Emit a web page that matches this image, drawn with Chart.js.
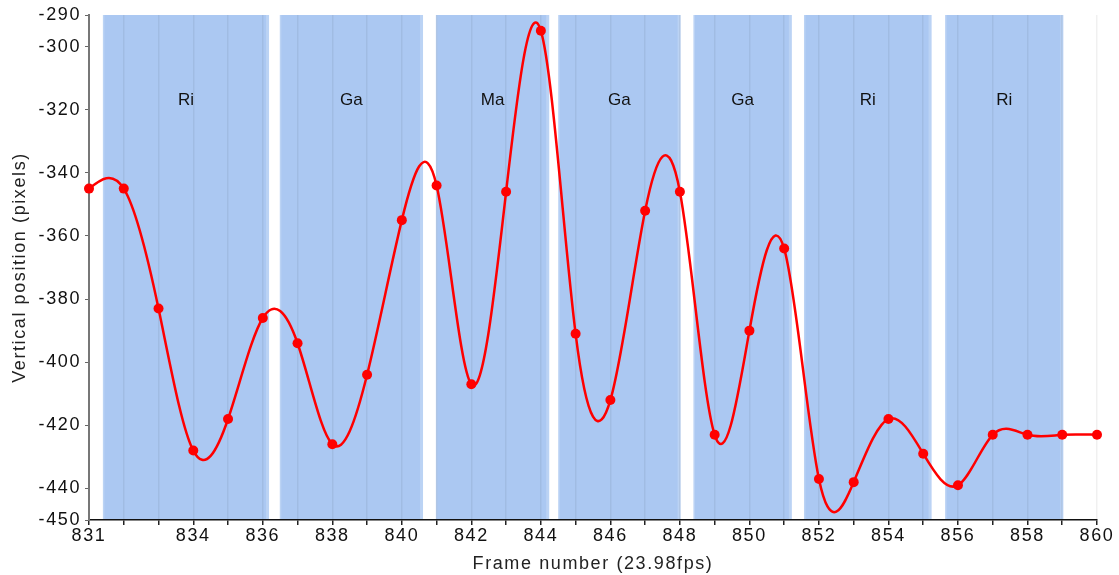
<!DOCTYPE html>
<html>
<head>
<meta charset="utf-8">
<script src="https://cdn.jsdelivr.net/npm/chart.js@4"></script>
<style>
  html, body { margin: 0; padding: 0; background: #fff; }
  #wrap { width: 1119px; height: 575px; }
</style>
</head>
<body>
<div id="wrap"><canvas id="posChart"></canvas></div>
<script>
// frame numbers and measured vertical position
const frames = [831, 832, 833, 834, 835, 836, 837, 838, 839, 840, 841, 842, 843, 844, 845,
                846, 847, 848, 849, 850, 851, 852, 853, 854, 855, 856, 857, 858, 859, 860, 861];
const positions = [-345, -345, -383, -428, -418, -386, -394, -426, -404, -355, -344, -407, -346, -295, -391,
                   -412, -352, -346, -423, -390, -364, -437, -438, -418, -429, -439, -423, -423, -423, -423, -423];

// shaded segments
const bandStarts = [831.4, 836.49, 840.98, 844.5, 848.39, 851.57, 855.63];
const bandEnds   = [836.18, 840.61, 844.24, 848.02, 851.22, 855.24, 859.03];
const bandLabels = ['Ri', 'Ga', 'Ma', 'Ga', 'Ga', 'Ri', 'Ri'];

// axis ticks
const yTicks = [-450, -440, -420, -400, -380, -360, -340, -320, -300, -290];
const xLabels = [831, 834, 836, 838, 840, 842, 844, 846, 848, 850, 852, 854, 856, 858, 860];

const FONT = '"Liberation Sans", Arial, sans-serif';

function spacing(chart) {
    chart.ctx.letterSpacing = '1.6px';
}

const bandPlugin = {
    id: 'bands',
    beforeUpdate: spacing,
    beforeLayout: spacing,
    beforeDraw(chart) {
        spacing(chart);
        const ctx = chart.ctx;
        const area = chart.chartArea;
        const x = chart.scales.x;
        ctx.save();
        for (let i = 0; i < bandStarts.length; i++) {
            const x0 = x.getPixelForValue(bandStarts[i]);
            const x1 = x.getPixelForValue(bandEnds[i]);
            ctx.fillStyle = '#abc8f2';
            ctx.fillRect(x0, area.top, x1 - x0, area.bottom - area.top);
            ctx.fillStyle = 'rgba(255,255,255,0.2)';
            ctx.fillRect(x1 - 3, area.top, 3, area.bottom - area.top);
            ctx.fillRect(x0, area.top, 1.5, area.bottom - area.top);
        }
        ctx.restore();
    },
    // natural cubic spline through the points (pixel space), fed to the line's bezier control points
    beforeDatasetsDraw(chart) {
        const meta = chart.getDatasetMeta(0);
        const line = meta.dataset;
        const pts = meta.data;
        line.updateControlPoints(chart.chartArea, 'x');
        const n = pts.length;
        const xs = pts.map(p => p.x);
        const ys = pts.map(p => p.y);
        const h = [];
        for (let i = 0; i < n - 1; i++) h.push(xs[i + 1] - xs[i]);
        // tridiagonal solve for second derivatives, natural ends
        const a = new Array(n).fill(0), b = new Array(n).fill(1), c = new Array(n).fill(0), d = new Array(n).fill(0);
        for (let i = 1; i < n - 1; i++) {
            a[i] = h[i - 1];
            b[i] = 2 * (h[i - 1] + h[i]);
            c[i] = h[i];
            d[i] = 6 * ((ys[i + 1] - ys[i]) / h[i] - (ys[i] - ys[i - 1]) / h[i - 1]);
        }
        for (let i = 1; i < n; i++) {
            const w = a[i] / b[i - 1];
            b[i] -= w * c[i - 1];
            d[i] -= w * d[i - 1];
        }
        const M = new Array(n).fill(0);
        M[n - 1] = d[n - 1] / b[n - 1];
        for (let i = n - 2; i >= 0; i--) M[i] = (d[i] - c[i] * M[i + 1]) / b[i];
        for (let i = 0; i < n - 1; i++) {
            const s = (ys[i + 1] - ys[i]) / h[i];
            const d0 = s - h[i] * (2 * M[i] + M[i + 1]) / 6;
            const d1 = s + h[i] * (M[i] + 2 * M[i + 1]) / 6;
            pts[i].cp2x = xs[i] + h[i] / 3;
            pts[i].cp2y = ys[i] + d0 * h[i] / 3;
            pts[i + 1].cp1x = xs[i + 1] - h[i] / 3;
            pts[i + 1].cp1y = ys[i + 1] - d1 * h[i] / 3;
        }
        pts[0].cp1x = xs[0]; pts[0].cp1y = ys[0];
        pts[n - 1].cp2x = xs[n - 1]; pts[n - 1].cp2y = ys[n - 1];
        line._path = undefined;
    },
    afterDatasetsDraw(chart) {
        const ctx = chart.ctx;
        const area = chart.chartArea;
        const x = chart.scales.x;
        ctx.save();
        ctx.letterSpacing = '0px';
        ctx.fillStyle = '#111';
        ctx.font = '17px ' + FONT;
        ctx.textAlign = 'center';
        ctx.textBaseline = 'middle';
        for (let i = 0; i < bandLabels.length; i++) {
            const cx = (x.getPixelForValue(bandStarts[i]) + x.getPixelForValue(bandEnds[i])) / 2;
            ctx.fillText(bandLabels[i], cx, area.top + 85);
        }
        ctx.restore();
    }
};

const ctx = document.getElementById('posChart').getContext('2d');
const chart = new Chart(ctx, {
    type: 'line',
    data: {
        datasets: [
            {
                data: frames.map((f, i) => ({ x: f, y: positions[i] })),
                borderColor: '#ff0000',
                backgroundColor: '#ff0000',
                borderWidth: 2.5,
                pointRadius: 5,
                pointHoverRadius: 5,
                pointBorderWidth: 0,
                tension: 0.4,
                fill: false,
                clip: { left: 10, top: 10, right: 18, bottom: 10 }
            }
        ]
    },
    options: {
        responsive: true,
        maintainAspectRatio: false,
        animation: false,
        layout: { padding: { top: 15, right: 22, left: 0, bottom: 0 } },
        plugins: {
            legend: { display: false },
            tooltip: { enabled: false }
        },
        scales: {
            x: {
                type: 'linear',
                min: 831,
                max: 860,
                afterBuildTicks: scale => {
                    const t = [];
                    for (let v = 831; v <= 860; v++) t.push({ value: v });
                    scale.ticks = t;
                },
                afterFit: scale => { scale.height = 55; },
                ticks: {
                    autoSkip: false,
                    maxRotation: 0,
                    padding: 0,
                    color: '#111',
                    font: { size: 18, family: FONT },
                    callback: v => xLabels.includes(v) ? String(v) : ''
                },
                grid: {
                    color: 'rgba(0,0,0,0.06)',
                    tickColor: '#222',
                    tickLength: 5,
                    lineWidth: 1.5
                },
                border: { color: '#111', width: 1.5 },
                title: {
                    display: true,
                    text: 'Frame number (23.98fps)',
                    color: '#222',
                    font: { size: 18, family: FONT },
                    padding: { top: 0, bottom: 0 }
                }
            },
            y: {
                min: -450,
                max: -290,
                afterBuildTicks: scale => {
                    scale.ticks = yTicks.map(v => ({ value: v }));
                },
                afterFit: scale => { scale.width = 89; },
                ticks: {
                    autoSkip: false,
                    padding: 4,
                    color: '#111',
                    font: { size: 18, family: FONT },
                    callback: v => String(v)
                },
                grid: {
                    drawOnChartArea: false,
                    tickColor: '#666',
                    tickLength: 4
                },
                border: { color: '#777', width: 2 },
                title: {
                    display: true,
                    text: 'Vertical position (pixels)',
                    color: '#222',
                    font: { size: 18, family: FONT },
                    padding: { top: 9, bottom: 0 }
                }
            }
        }
    },
    plugins: [bandPlugin]
});
</script>
</body>
</html>
